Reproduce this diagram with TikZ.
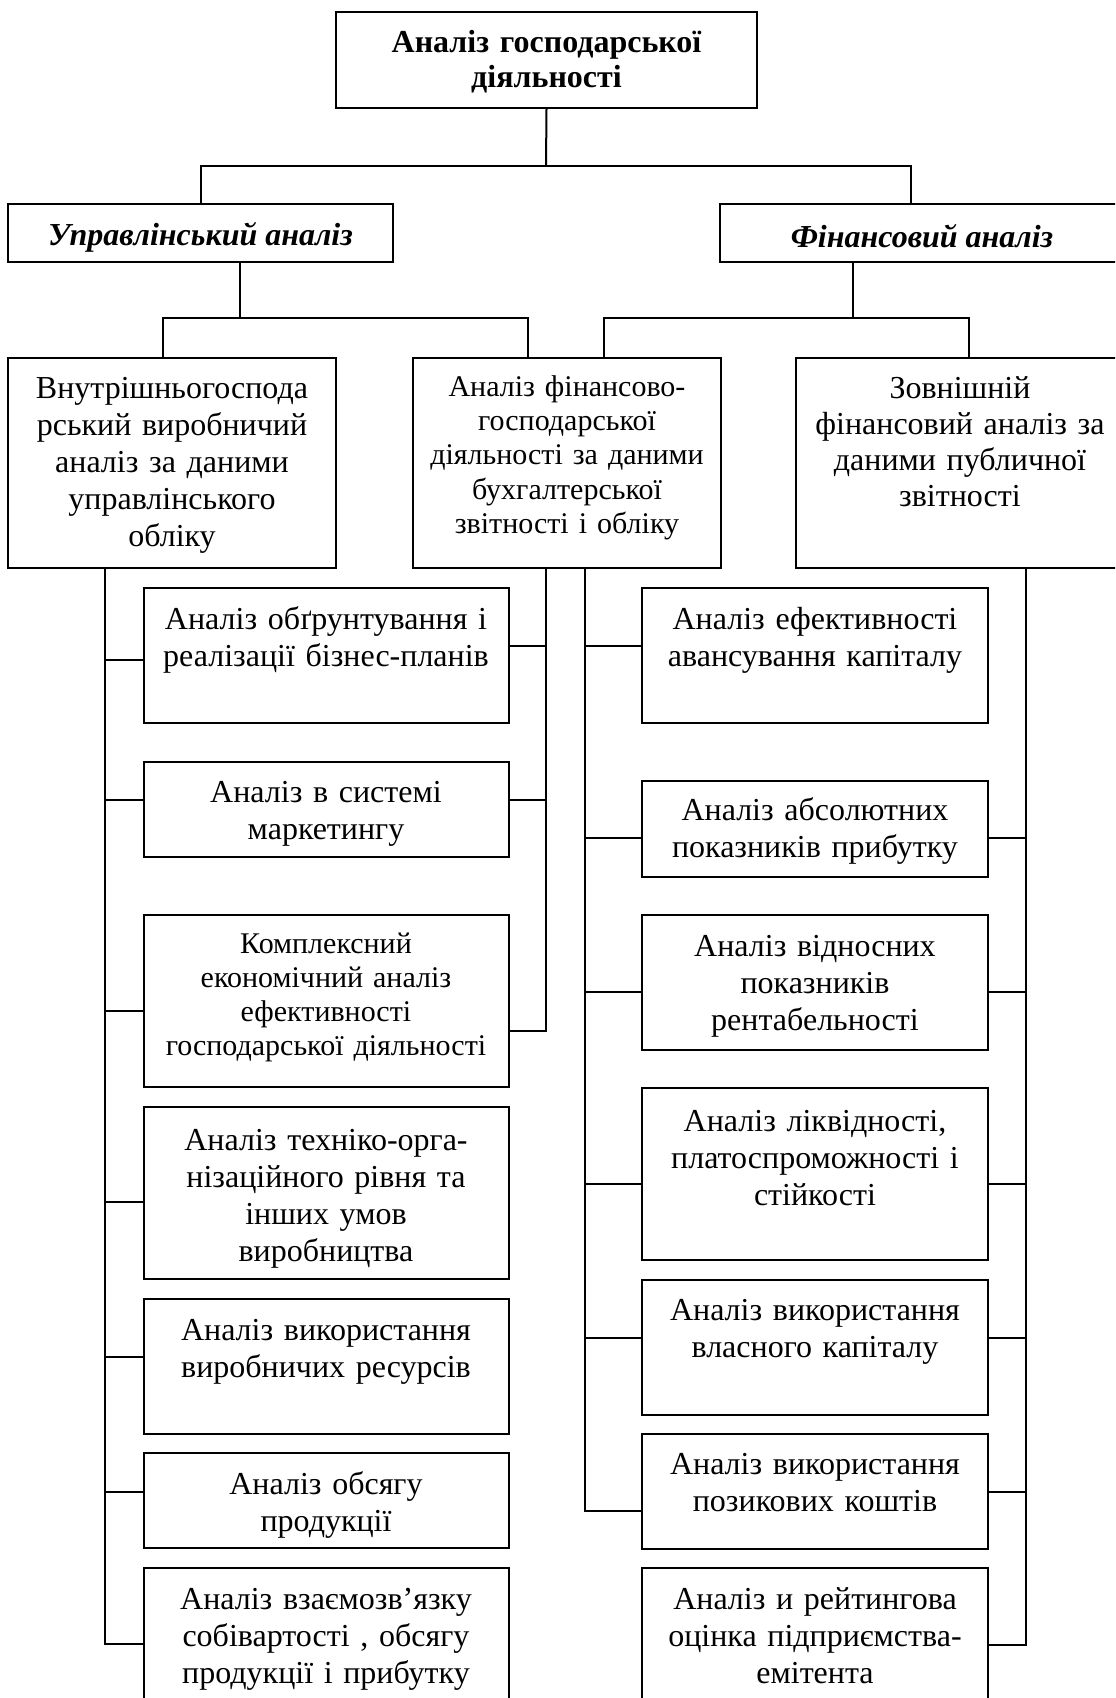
\documentclass[tikz,border=0pt]{standalone}
\usepackage{fontspec}
\setmainfont{Liberation Serif}
\usetikzlibrary{fit}

\begin{document}
\begin{tikzpicture}[x=0.5pt, y=-0.5pt, line width=1pt,
    box/.style={draw, inner sep=0pt},
    title/.style={anchor=base, align=center, text width=200pt, font=\fontsize{16}{17.5}\selectfont\bfseries},
    head/.style={align=center, font=\fontsize{16}{18}\selectfont\bfseries\itshape},
    txt/.style={anchor=base, align=center, text width=190pt, font=\fontsize{16}{18.5}\selectfont}]

% PAGE
\useasboundingbox (0,0) rectangle (1115,1698);
\clip (0,0) rectangle (1115,1698);

% TOP BOX
\node[box, fit={(336,12) (757,108)}] (top) {};
\node[title] (top-t) at ([yshift=-20.5pt]top.north) {Аналіз господарської\\діяльності};

% SECOND LEVEL
\node[box, fit={(8,204) (393,262)}] (upr) {};
\node[head] (upr-t) at ([yshift=-2pt]upr.center) {Управлінський аналіз};
\node[box, fit={(720,204) (1124,262)}] (fin) {};
\node[head] (fin-t) at ([yshift=-1.5pt]fin.center) {Фінансовий аналіз};

% THIRD LEVEL
\node[box, fit={(8,358) (336,568)}] (vnutr) {};
\node[txt, font=\fontsize{16}{18.5}\selectfont] (vnutr-t) at ([yshift=-20.5pt]vnutr.north) {Внутрішньогоспода\\рський виробничий\\аналіз за даними\\управлінського\\обліку};
\node[box, fit={(413,358) (721,568)}] (fgosp) {};
\node[txt, font=\fontsize{15}{17.2}\selectfont] (fgosp-t) at ([yshift=-19.5pt]fgosp.north) {Аналіз фінансово-\\господарської\\діяльності за даними\\бухгалтерської\\звітності і обліку};
\node[box, fit={(796,358) (1124,568)}] (zovn) {};
\node[txt, font=\fontsize{16}{18}\selectfont] (zovn-t) at ([yshift=-20.5pt]zovn.north) {Зовнішній\\фінансовий аналіз за\\даними публичної\\звітності};

% LEFT COLUMN
\node[box, fit={(143.5,588) (508.5,723)}] (l1) {};
\node[txt] (l1-t) at ([yshift=-21pt]l1.north) {Аналіз обґрунтування і\\реалізації бізнес-планів};
\node[box, fit={(143.5,762) (508.5,857)}] (l2) {};
\node[txt] (l2-t) at ([yshift=-20.5pt]l2.north) {Аналіз в системі\\маркетингу};
\node[box, fit={(143.5,915) (508.5,1087)}] (l3) {};
\node[txt, font=\fontsize{15}{17}\selectfont] (l3-t) at ([yshift=-19.5pt]l3.north) {Комплексний\\економічний аналіз\\ефективності\\господарської діяльності};
\node[box, fit={(143.5,1107) (508.5,1279)}] (l4) {};
\node[txt] (l4-t) at ([yshift=-22pt]l4.north) {Аналіз техніко-орга-\\нізаційного рівня та\\інших умов\\виробництва};
\node[box, fit={(143.5,1299) (508.5,1434)}] (l5) {};
\node[txt] (l5-t) at ([yshift=-21pt]l5.north) {Аналіз використання\\виробничих ресурсів};
\node[box, fit={(143.5,1453) (508.5,1548)}] (l6) {};
\node[txt] (l6-t) at ([yshift=-21pt]l6.north) {Аналіз обсягу\\продукції};
\node[box, fit={(143.5,1568) (508.5,1710)}] (l7) {};
\node[txt] (l7-t) at ([yshift=-21pt]l7.north) {Аналіз взаємозв’язку\\собівартості , обсягу\\продукції і прибутку};

% RIGHT COLUMN
\node[box, fit={(642,588) (988,723)}] (r1) {};
\node[txt] (r1-t) at ([yshift=-21pt]r1.north) {Аналіз ефективності\\авансування капіталу};
\node[box, fit={(642,781) (988,877)}] (r2) {};
\node[txt] (r2-t) at ([yshift=-20pt]r2.north) {Аналіз абсолютних\\показників прибутку};
\node[box, fit={(642,915) (988,1050)}] (r3) {};
\node[txt] (r3-t) at ([yshift=-21pt]r3.north) {Аналіз відносних\\показників\\рентабельності};
\node[box, fit={(642,1087.5) (988,1260)}] (r4) {};
\node[txt] (r4-t) at ([yshift=-22.5pt]r4.north) {Аналіз ліквідності,\\платоспроможності і\\стійкості};
\node[box, fit={(642,1280) (988,1415)}] (r5) {};
\node[txt] (r5-t) at ([yshift=-20.5pt]r5.north) {Аналіз використання\\власного капіталу};
\node[box, fit={(642,1434) (988,1549)}] (r6) {};
\node[txt] (r6-t) at ([yshift=-20.5pt]r6.north) {Аналіз використання\\позикових коштів};
\node[box, fit={(642,1568) (988,1710)}] (r7) {};
\node[txt] (r7-t) at ([yshift=-21pt]r7.north) {Аналіз и рейтингова\\оцінка підприємства-\\емітента};

% TREE LINES
\coordinate (j1) at (546,166);
\coordinate (j2) at (240,318);
\coordinate (j3) at (853,318);
\draw (top.south) -- (j1);
\draw (j1) -| (upr.north);
\draw (j1) -| ([xshift=-5.5pt]fin.north);
\draw (upr.south -| j2) -- (j2);
\draw (j2) -| ([xshift=-4.5pt]vnutr.north);
\draw (j2) -| ([xshift=-19.5pt]fgosp.north);
\draw (fin.south -| j3) -- (j3);
\draw (j3) -| ([xshift=18.5pt]fgosp.north);
\draw (j3) -| ([xshift=4.5pt]zovn.north);

% TRUNKS
\coordinate (tl) at (105,0);
\coordinate (tm) at (546,0);
\coordinate (tn) at (585,0);
\coordinate (tr) at (1026,0);
\draw (tl |- vnutr.south) -- ++(0,1075) -- ++(38.5,0);
\draw (tm |- fgosp.south) -- ++(0,462) -- ++(-37.5,0);
\draw (tn |- fgosp.south) -- ++(0,942) -- ++(57,0);
\draw (tr |- zovn.south) -- ++(0,1076) -- ++(-38,0);

% LEFT STUBS
\draw (l1.west) ++(0,4.5) -- ++(-38.5,0);
\draw (l2.west) ++(0,-9.5) -- ++(-38.5,0);
\draw (l3.west) ++(0,10) -- ++(-38.5,0);
\draw (l4.west) ++(0,9) -- ++(-38.5,0);
\draw (l5.west) ++(0,-9.5) -- ++(-38.5,0);
\draw (l6.west) ++(0,-8.5) -- ++(-38.5,0);
\draw (l1.east) ++(0,-9.5) -- ++(37.5,0);
\draw (l2.east) ++(0,-9.5) -- ++(37.5,0);

% RIGHT STUBS
\draw (r1.west) ++(0,-9.5) -- ++(-57,0);
\draw (r2.west) ++(0,9) -- ++(-57,0);
\draw (r3.west) ++(0,9.5) -- ++(-57,0);
\draw (r4.west) ++(0,10) -- ++(-57,0);
\draw (r5.west) ++(0,-9.5) -- ++(-57,0);
\draw (r2.east) ++(0,9) -- ++(38,0);
\draw (r3.east) ++(0,9.5) -- ++(38,0);
\draw (r4.east) ++(0,10) -- ++(38,0);
\draw (r5.east) ++(0,-9.5) -- ++(38,0);
\draw (r6.east) -- ++(38,0);

\end{tikzpicture}
\end{document}
